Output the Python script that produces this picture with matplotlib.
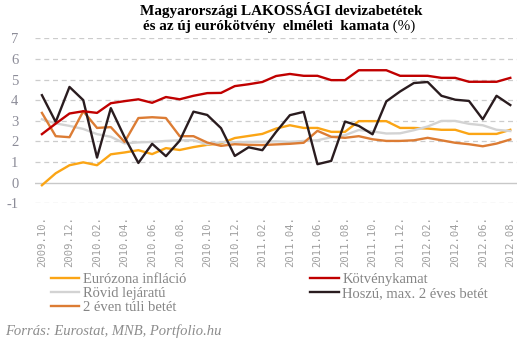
import matplotlib
matplotlib.use("Agg")
import matplotlib.pyplot as plt
import numpy as np

months = [f"{y}.{m:02d}." for y, m in
          [(2009, 10), (2009, 11), (2009, 12)] +
          [(2010, m) for m in range(1, 13)] +
          [(2011, m) for m in range(1, 13)] +
          [(2012, m) for m in range(1, 9)]]

euro_inflacio = [-0.13, 0.45, 0.84, 0.98, 0.84, 1.37, 1.46, 1.57, 1.38, 1.67,
                 1.58, 1.72, 1.83, 1.90, 2.16, 2.26, 2.36, 2.62, 2.78, 2.65,
                 2.65, 2.46, 2.46, 2.98, 2.98, 2.98, 2.65, 2.65, 2.62, 2.56,
                 2.56, 2.36, 2.36, 2.36, 2.56]
kotvenykamat = [2.35, 2.86, 3.35, 3.46, 3.38, 3.85, 3.95, 4.04, 3.87, 4.15,
                4.04, 4.21, 4.34, 4.35, 4.68, 4.77, 4.88, 5.17, 5.27, 5.18,
                5.18, 4.97, 4.97, 5.45, 5.45, 5.45, 5.18, 5.18, 5.18, 5.08,
                5.08, 4.89, 4.89, 4.89, 5.08]
rovid = [3.07, 2.87, 2.75, 2.60, 2.35, 2.22, 1.90, 1.95, 1.97, 2.02,
         2.05, 2.05, 1.86, 1.96, 1.96, 1.97, 1.98, 2.00, 1.97, 2.02,
         2.05, 2.20, 2.30, 2.55, 2.48, 2.38, 2.39, 2.54, 2.72, 2.99,
         2.99, 2.85, 2.78, 2.56, 2.50]
hosszu = [4.24, 2.94, 4.64, 4.00, 1.21, 3.61, 2.20, 0.95, 1.88, 1.28,
          2.03, 3.44, 3.28, 2.64, 1.29, 1.71, 1.57, 2.46, 3.27, 3.43,
          0.89, 1.05, 2.96, 2.75, 2.34, 3.94, 4.42, 4.83, 4.88, 4.21,
          4.02, 3.96, 3.07, 4.21, 3.76]
ket_even_tul = [3.38, 2.25, 2.20, 3.46, 2.65, 2.69, 1.97, 3.13, 3.17, 3.13,
                2.25, 2.25, 1.94, 1.78, 1.86, 1.83, 1.82, 1.85, 1.88, 1.93,
                2.51, 2.22, 2.17, 2.25, 2.10, 2.02, 2.02, 2.05, 2.17, 2.05,
                1.93, 1.86, 1.76, 1.89, 2.09]

x = np.arange(len(months))

fig = plt.figure(figsize=(5.31, 3.42), dpi=100)
ax = fig.add_axes([0.066, 0.406, 0.908, 0.482])

lw = 1.7
l_euro, = ax.plot(x, euro_inflacio, color="#FBA515", lw=lw, label="Eurózona infláció")
l_rov, = ax.plot(x, rovid, color="#D3D3D3", lw=lw, label="Rövid lejáratú")
l_ket, = ax.plot(x, ket_even_tul, color="#DC7C34", lw=lw, label="2 éven túli betét")
l_hosz, = ax.plot(x, hosszu, color="#2A1C1F", lw=lw, label="Hoszú, max. 2 éves betét")
l_kotv, = ax.plot(x, kotvenykamat, color="#C00000", lw=lw, label="Kötvénykamat")

ax.set_xlim(-0.5, len(months) - 0.5)
ax.set_ylim(-1, 7)
ax.set_yticks(range(-1, 8))
ax.set_yticklabels([str(v) for v in range(-1, 8)], family="Liberation Serif",
                   fontsize=10.5, color="#8C8C98")
ax.set_xticks(x[::2])
ax.set_xticklabels(months[::2], rotation=90, family="DejaVu Sans Mono",
                   fontsize=7.6, color="#A0A0A0")
ax.tick_params(length=0)
ax.tick_params(axis="y", pad=12)
ax.tick_params(axis="x", pad=9)

for v in range(-1, 8):
    if v == 0:
        ax.axhline(v, color="#C8C8C8", lw=1.0, zorder=0)
    else:
        ax.axhline(v, color="#CCCCCC", lw=0.9, ls=(0, (4, 3)), zorder=0)
for s in ax.spines.values():
    s.set_visible(False)

# title: first line bold, second line bold except "(%)"
title_kw = dict(family="Liberation Serif", fontsize=10.9)
fig.text(0.529, 1 - 15 / 342, "Magyarországi LAKOSSÁGI devizabetétek",
         ha="center", va="baseline", fontweight="bold", **title_kw)
t_bold = fig.text(0, 1 - 30 / 342, "és az új eurókötvény  elméleti  kamata",
                  ha="left", va="baseline", fontweight="bold", **title_kw)
t_pct = fig.text(0, 1 - 30 / 342, " (%)", ha="left", va="baseline", **title_kw)
fig.canvas.draw()
r = fig.canvas.get_renderer()
w_bold = t_bold.get_window_extent(r).width
w_pct = t_pct.get_window_extent(r).width
x0 = 279 - (w_bold + w_pct) / 2
t_bold.set_x(x0 / 531)
t_pct.set_x((x0 + w_bold) / 531)

leg_kw = dict(loc="upper left", frameon=False, handlelength=1.95,
              handletextpad=0.25, labelspacing=0.05, borderpad=0,
              borderaxespad=0,
              prop={"family": "Liberation Serif", "size": 10.5})
leg1 = fig.legend(handles=[l_euro, l_rov, l_ket],
                  bbox_to_anchor=(0.096, 0.203), **leg_kw)
leg2 = fig.legend(handles=[l_kotv, l_hosz],
                  bbox_to_anchor=(0.584, 0.203), **leg_kw)
for leg in (leg1, leg2):
    for t in leg.get_texts():
        t.set_color("#858585")

fig.text(0.01, 0.012, "Forrás: Eurostat, MNB, Portfolio.hu", family="Liberation Serif",
         style="italic", fontsize=10.5, color="#8C8C8C", va="bottom")

fig.savefig("out.png", dpi=100)
